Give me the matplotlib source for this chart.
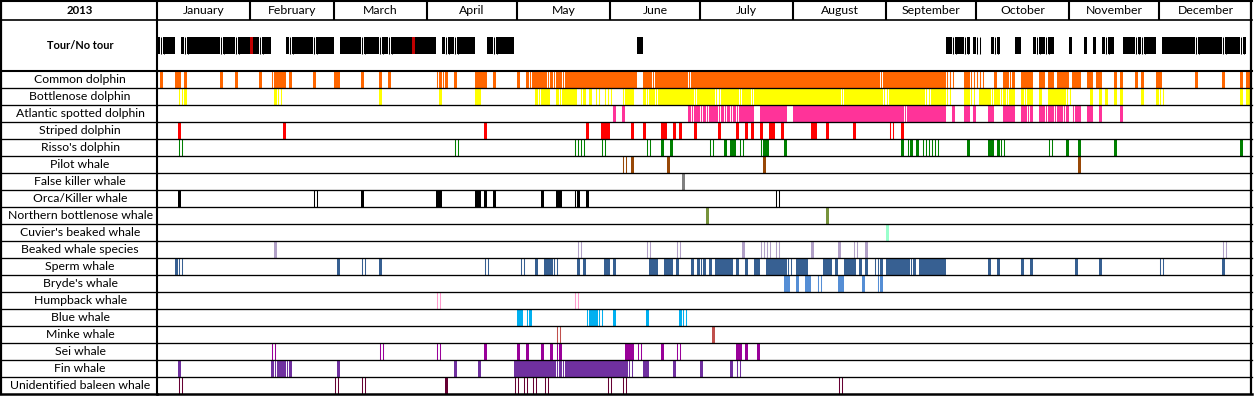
import matplotlib.pyplot as plt

plt.rcParams['font.family'] = ['Lato', 'DejaVu Sans']

months = ["January", "February", "March", "April", "May", "June", "July",
          "August", "September", "October", "November", "December"]
month_days = [31, 28, 31, 30, 31, 30, 31, 31, 30, 31, 30, 31]

# day 0 = 1 January 2013, (a, b) = days a..b
# *_fill = coloured cell, *_thin = cell with only a coloured border
tour_spans = [(0, 118), (160, 161), (263, 364)]
tour_off = [(6, 7), (38, 42), (59, 60), (93, 94), (106, 109), 271, (274, 277),
            (281, 285), (288, 291), (299, 303), (305, 308), (310, 311),
            (313, 314), (319, 321), (333, 334), (363, 364)]
tour_thin = [1, 9, 21, 26, 34, 44, 52, 68, 74, 77, 96, 99, 112, 265, 269, 273,
             279, 293, 296, 316, 326, 328, 346, 355, 361]
tour_red = [31, 85]

common_fill = [1, (6, 7), 9, 21, 26, 34, (39, 42), 44, 52, (59, 60), 68, 74, 77,
               94, 96, 99, (106, 109), 112, 120, 123, (125, 129), 131, (133, 134),
               (136, 159), (162, 164), (166, 176), (178, 240), (242, 262),
               (269, 270), 279, (282, 283), 285, (288, 291), (294, 295),
               (297, 298), (300, 303), (305, 307), (310, 311), (313, 314), 319,
               321, 326, 328, (333, 334), 346, 355, 361, (363, 364)]
common_thin = [38, 93, 95, 124, 130, 132, 135, 165, 177, 241, 263, 264, 271,
               272, 273, 274, 284]

bottlenose_fill = [9, 39, 74, 94, (106, 107), 126, (128, 130), 133, (135, 139),
                   142, 144, (156, 158), 162, (164, 165), (167, 178), (180, 185),
                   (188, 193), (195, 197), (199, 227), (229, 241), (244, 255),
                   (258, 262), (269, 270), (274, 277), (279, 280), 282, (284, 285),
                   288, (290, 291), 294, (297, 302), 311, 314, 316, 319, 321, 328,
                   333, 361, (363, 364)]
bottlenose_thin = [7, 40, 127, 134, 141, 146, 149, 150, 155, 163, 166, 179, 186,
                   187, 194, 198, 228, 242, 256, 257, 263, 271, 278, 281, 283,
                   289, 303, 334]

atlantic_fill = [152, 155, 177, (179, 180), 182, (184, 186), 188, 190, 192,
                 (194, 198), (201, 209), (212, 248), (250, 262), 265, (269, 270),
                 272, (277, 278), (282, 285), (288, 289), 291, (294, 295),
                 (297, 298), (300, 301), 303, (306, 307), (310, 311), 314, 321]
atlantic_thin = [178, 181, 183, 187, 189, 191, 193, 249, 290, 296, 299, 302, 305]

striped_fill = [7, 42, 109, 143, (148, 150), 158, 162, (168, 169), 172, 174, 179,
                187, 193, 196, 198, 201, (204, 205), 208, (218, 219), 223, 232, 248]
striped_thin = [244]

risso_fill = [168, 171, 189, (191, 192), (202, 203), 209, 248, 251, 253, 270,
              (277, 278), 280, 303, 307, 319, 361]
risso_thin = [7, 99, 139, 141, 148, 163, 184, 194, 201, 250, 255, 257, 259, 281, 297]

pilot_fill = [158, 170, 202, 307]
pilot_thin = [155]

falsekiller_fill = [175]

orca_fill = [7, 68, (93, 94), (106, 107), 109, 112, 128, (133, 134), 140, 143]
orca_thin = [52, 139, 206]

nbottlenose_fill = [183, 223]

cuvier_fill = [243]

beaked_fill = [39, 195, 218, 227, 236]
beaked_thin = [140, 163, 173, 201, 202, 203, 206, 232, 355]

sperm_fill = [6, 60, 74, 126, (129, 131), 140, 142, (149, 150), 152, (164, 166),
              (169, 171), 173, 178, 180, 182, 184, (186, 191), 193, 196, (199, 200),
              (203, 209), (213, 216), (222, 224), 226, (229, 232), 234, 236, 241,
              (243, 250), 252, (254, 262), 277, 280, 288, 291, 306, 314, 355]
sperm_thin = [7, 68, 109, 121, 132, 181, 210, 239, 251, 334]

brydes_fill = [(209, 210), 213, (216, 217), (227, 228), 235, 241]
brydes_thin = [220, 240]

humpback_thin = [93, 139]

blue_fill = [(120, 121), 124, (144, 146), 152, 163, 174]
blue_thin = [123, 143, 147, 175]

minke_fill = [185]
minke_thin = [133]

sei_fill = [109, 120, 123, 128, 131, 134, (156, 158), 168, (193, 194), 196, 200]
sei_thin = [38, 74, 93, 133, 160, 173]

fin_fill = [7, 38, (40, 42), 44, 60, 99, 107, (119, 132), 134, (136, 156),
            (162, 163), 172, 181, 191]
fin_thin = [39, 43, 133, 135, 157, 193]

baleen_fill = [96]
baleen_thin = [7, 59, 68, 119, 122, 125, 129, 150, 155, 227]

rows = [
    ("Common dolphin", "#FF6600", common_fill, common_thin),
    ("Bottlenose dolphin", "#FFFF00", bottlenose_fill, bottlenose_thin),
    ("Atlantic spotted dolphin", "#FF3399", atlantic_fill, atlantic_thin),
    ("Striped dolphin", "#FF0000", striped_fill, striped_thin),
    ("Risso's dolphin", "#008000", risso_fill, risso_thin),
    ("Pilot whale", "#984807", pilot_fill, pilot_thin),
    ("False killer whale", "#808080", falsekiller_fill, []),
    ("Orca/Killer whale", "#000000", orca_fill, orca_thin),
    ("Northern bottlenose whale", "#77933C", nbottlenose_fill, []),
    ("Cuvier's beaked whale", "#99FFCC", cuvier_fill, []),
    ("Beaked whale species", "#B1A0C7", beaked_fill, beaked_thin),
    ("Sperm whale", "#376092", sperm_fill, sperm_thin),
    ("Bryde's whale", "#558ED5", brydes_fill, brydes_thin),
    ("Humpback whale", "#FF99CC", [], humpback_thin),
    ("Blue whale", "#00B0F0", blue_fill, blue_thin),
    ("Minke whale", "#C0504D", minke_fill, minke_thin),
    ("Sei whale", "#990099", sei_fill, sei_thin),
    ("Fin whale", "#7030A0", fin_fill, fin_thin),
    ("Unidentified baleen whale", "#660033", baleen_fill, baleen_thin),
]


def expand(items):
    out = []
    for it in items:
        if isinstance(it, tuple):
            out += list(range(it[0], it[1] + 1))
        else:
            out.append(it)
    return out


def runs(days):
    res = []
    for d in sorted(set(days)):
        if res and d == res[-1][0] + res[-1][1]:
            res[-1] = (res[-1][0], res[-1][1] + 1)
        else:
            res.append((d, 1))
    return res


def thin_lines(ax, days, y0, h, color):
    xs = []
    for d in days:
        xs += [d + 1 / 6, d + 1 + 1 / 6]
    if xs:
        ax.vlines(xs, y0, y0 + h, colors=color, linewidth=0.75)


n = len(rows)
top = n + 3 + 1.1  # species rows, tour row (3 units), header
W, H = 1256, 396
bottom_px, top_px = 393.7, 1.0
b = (H - bottom_px) / H
h = (bottom_px - top_px) / H
fs = 8.8

fig = plt.figure(figsize=(W / 100, H / 100), dpi=100)
lab = fig.add_axes([0, b, 157 / W, h])
ax = fig.add_axes([157 / W, b, 1095 / W, h])
for a in (lab, ax):
    a.set_axis_off()
    a.set_ylim(0, top)
lab.set_xlim(0, 1)
ax.set_xlim(0, 365)

# tour row
tour_days = expand(tour_spans)
skip = set(expand(tour_off)) | set(tour_thin) | set(tour_red)
tour_black = [d for d in tour_days if d not in skip]
ax.broken_barh(runs(tour_black), (n + 1, 1), facecolors="black", linewidth=0)
ax.broken_barh(runs(tour_red), (n + 1, 1), facecolors="#C00000", linewidth=0)
thin_lines(ax, tour_thin, n + 1, 1, "black")

# species rows
for i, (name, color, fill, thin) in enumerate(rows):
    y0 = n - 1 - i
    if fill:
        ax.broken_barh(runs(expand(fill)), (y0, 1), facecolors=color, linewidth=0)
    thin_lines(ax, thin, y0, 1, color)
    lab.text(0.51, y0 + 0.47, name, ha="center", va="center", fontsize=fs)

lab.text(0.51, n + 1.5, "Tour/No tour", ha="center", va="center",
         fontsize=7.9, fontweight="bold")
lab.text(0.51, n + 3 + 0.52, "2013", ha="center", va="center",
         fontsize=8.2, fontweight="bold")

# month header
start = 0
for m, nd in zip(months, month_days):
    ax.text(start + nd / 2, n + 3 + 0.52, m, ha="center", va="center", fontsize=fs)
    start += nd
    if start < 365:
        ax.vlines(start, n + 3, top, colors="black", linewidth=1.5)

# grid lines
for y in range(1, n):
    for a in (lab, ax):
        a.axhline(y, color="black", linewidth=0.95, clip_on=False)
for y, lw in [(0, 1.8), (n, 1.5), (n + 3, 1.2), (top, 1.5)]:
    for a in (lab, ax):
        a.axhline(y, color="black", linewidth=lw, clip_on=False)
lab.axvline(1.2 / 157, color="black", linewidth=1.6, clip_on=False)
ax.axvline(0, color="black", linewidth=1.5, clip_on=False)
ax.axvline(365 - 0.2, color="black", linewidth=1.6, clip_on=False)

fig.savefig("out.png", dpi=100)
